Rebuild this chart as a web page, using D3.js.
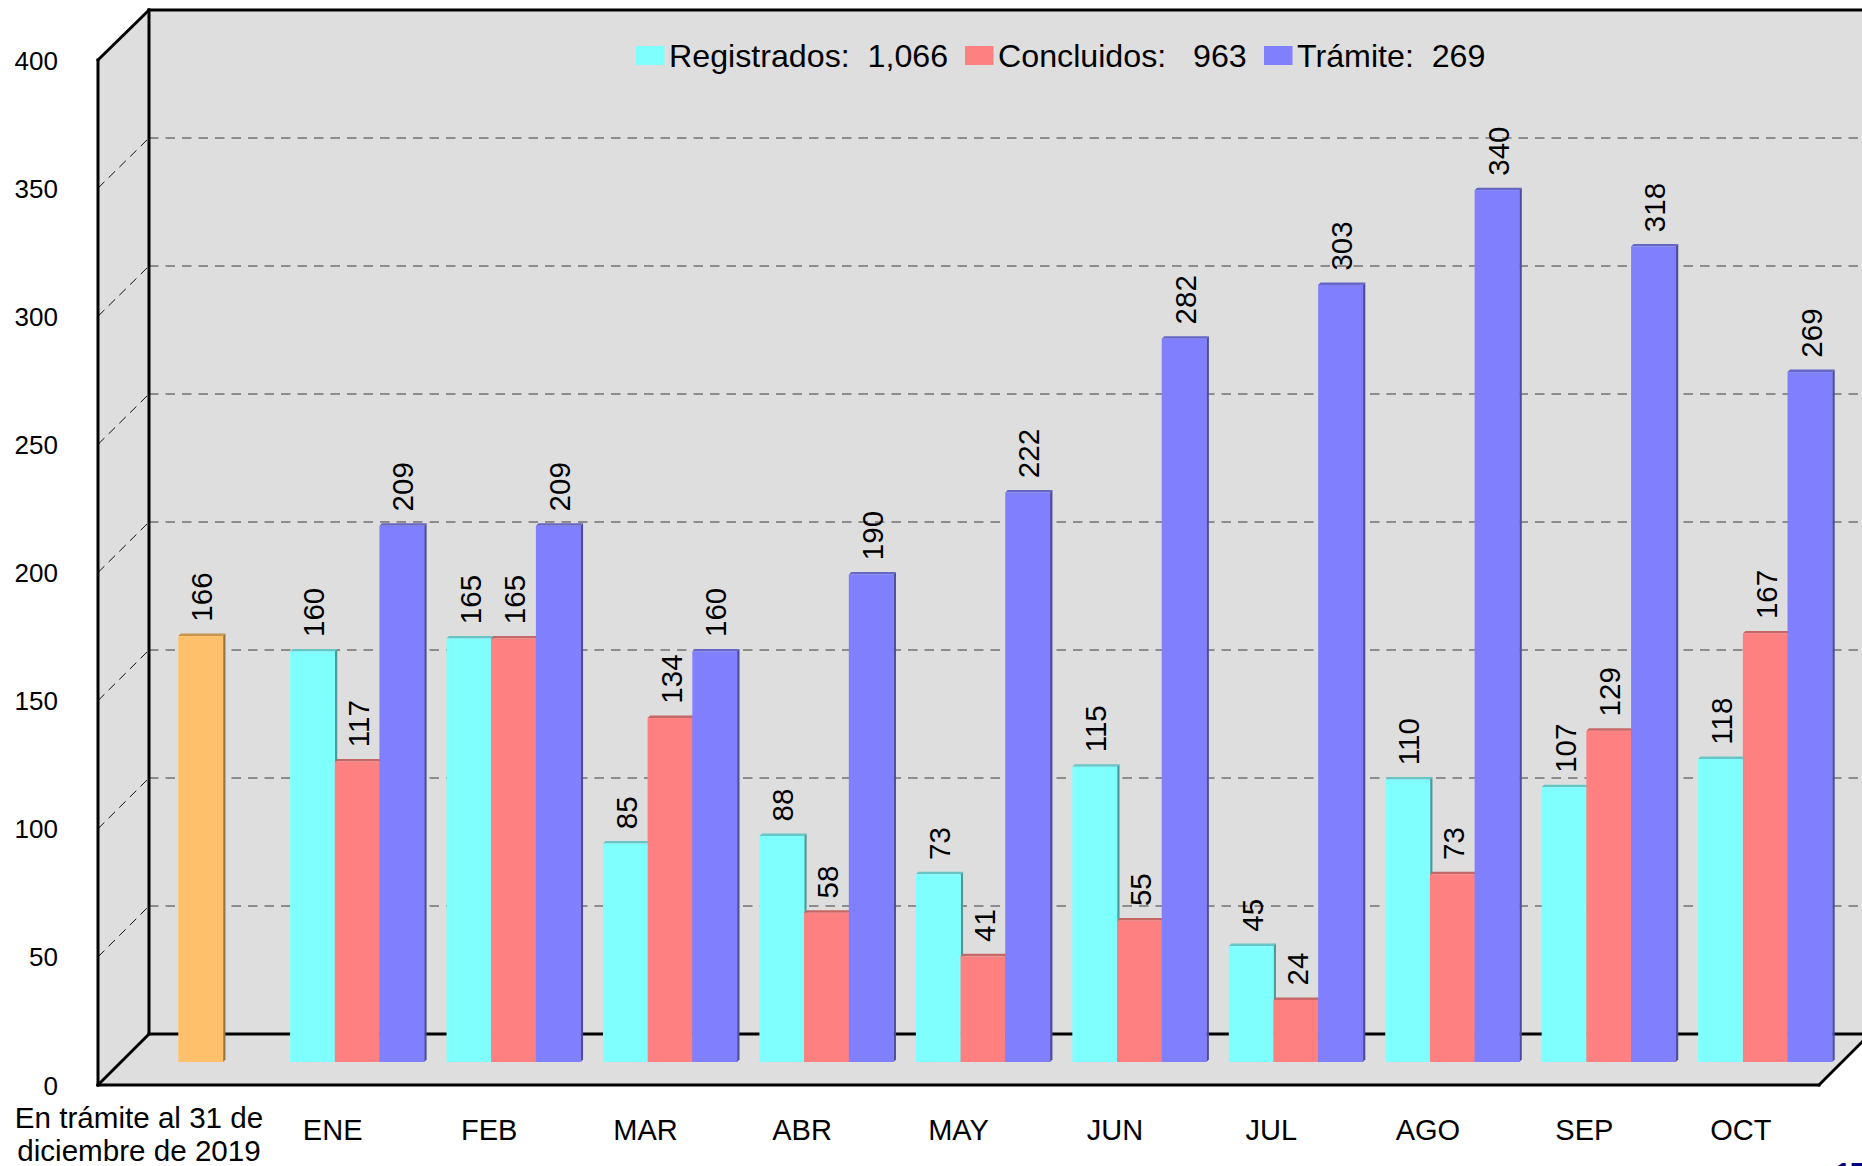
<!DOCTYPE html>
<html>
<head>
<meta charset="utf-8">
<script src="https://cdn.jsdelivr.net/npm/d3@7"></script>
<style>
html,body{margin:0;padding:0;background:#fff;overflow:hidden}
svg{display:block}
text{font-family:"Liberation Sans",Arial,sans-serif;fill:#000;white-space:pre}
</style>
</head>
<body>
<svg id="chart" width="1862" height="1166" xmlns="http://www.w3.org/2000/svg"></svg>
<script>
const categories = ["En trámite al 31 de diciembre de 2019","ENE","FEB","MAR","ABR","MAY","JUN","JUL","AGO","SEP","OCT"];
const tramite2019 = [166,null,null,null,null,null,null,null,null,null,null];
const registrados = [null,160,165,85,88,73,115,45,110,107,118];
const concluidos  = [null,117,165,134,58,41,55,24,73,129,167];
const tramite     = [null,209,209,160,190,222,282,303,340,318,269];
const yTicks = [0,50,100,150,200,250,300,350,400];
const seriesNames = ["Registrados","Concluidos","Trámite"];
const legendLabels = ["Registrados:  1,066","Concluidos:   963","Trámite:  269"];
const firstLabelLines = ["En trámite al 31 de","diciembre de 2019"];
const footerText = "17";

const colors = {Registrados:"#80FFFF",Concluidos:"#FF8080","Trámite":"#8080FF",Previo:"#FFC06C"};
const sideColors = {Registrados:"#4d9a9a",Concluidos:"#9a4d4d","Trámite":"#4d4d9a",Previo:"#9a7441"};
const capColors = {Registrados:"#66C6C6",Concluidos:"#C66666","Trámite":"#6666C6",Previo:"#C69650"};

const W=1862,H=1166;
const frontL=98,frontR=1819,backDX=51,backW=1880;
const svg=d3.select("#chart");

const yFront=d3.scaleLinear().domain([0,400]).range([1085,60]);
const yBack=d3.scaleLinear().domain([0,400]).range([1034,10]);
const yBar=d3.scaleLinear().domain([0,400]).range([1062,37]);
const xFront=d3.scaleBand().domain(categories).range([frontL,frontR]);
const xBar=d3.scaleBand().domain(categories).range([frontL+24.4,frontR+24.4]).paddingInner(0.1432).paddingOuter(0.0716);
const xSub=d3.scaleBand().domain(["Registrados","Previo","Trámite"]).range([0,xBar.bandwidth()]);
const sub=d3.scaleBand().domain(seriesNames).range([0,xBar.bandwidth()]);

const backL=frontL+backDX;
// walls and floor
svg.append("rect").attr("x",backL).attr("y",yBack(400)).attr("width",backW-backL).attr("height",yBack(0)-yBack(400)).attr("fill","#DEDEDE");
svg.append("polygon").attr("fill","#DEDEDE")
  .attr("points",[[frontL,yFront(400)],[backL,yBack(400)],[backL,yBack(0)],[frontL,yFront(0)]].join(" "));
svg.append("polygon").attr("fill","#DEDEDE")
  .attr("points",[[frontL,yFront(0)],[backL,yBack(0)],[frontR+backDX,yBack(0)],[frontR,yFront(0)]].join(" "));

// gridlines
const gridT=yTicks.filter(d=>d>0&&d<400);
svg.selectAll(".gb").data(gridT).join("line").attr("x1",backL).attr("x2",W)
  .attr("y1",d=>yBack(d)).attr("y2",d=>yBack(d))
  .attr("stroke","#3a3a3a").attr("stroke-width",1.2).attr("stroke-dasharray","9.5,7");
svg.selectAll(".gs").data(gridT).join("line").attr("x1",frontL).attr("x2",backL)
  .attr("y1",d=>yFront(d)).attr("y2",d=>yBack(d))
  .attr("stroke","#111").attr("stroke-width",1).attr("stroke-dasharray","9,6");

// frame
const frame=[
 [[frontL,yFront(400)],[frontL,yFront(0)]],
 [[frontL,yFront(0)],[frontR,yFront(0)]],
 [[frontL,yFront(400)],[backL,yBack(400)]],
 [[backL,yBack(400)],[W,yBack(400)]],
 [[backL,yBack(400)],[backL,yBack(0)]],
 [[backL,yBack(0)],[W,yBack(0)]],
 [[frontL,yFront(0)],[backL,yBack(0)]],
 [[frontR,yFront(0)],[frontR+backDX,yBack(0)]]
];
svg.selectAll(".f").data(frame).join("line")
 .attr("x1",d=>d[0][0]).attr("y1",d=>d[0][1]).attr("x2",d=>d[1][0]).attr("y2",d=>d[1][1])
 .attr("stroke","#000").attr("stroke-width",3).attr("stroke-linecap","square");

// bars
const marks=[];
categories.forEach((c,i)=>{
  if(tramite2019[i]!=null) marks.push({c,s:"Previo",v:tramite2019[i],x:xBar(c)+xSub.bandwidth()});
  [["Registrados",registrados],["Concluidos",concluidos],["Trámite",tramite]].forEach(([s,a])=>{
    if(a[i]!=null) marks.push({c,s,v:a[i],x:xBar(c)+sub(s)});
  });
});
const bw=sub.bandwidth(),dep=2.5;
const g=svg.append("g");
// left to right, so each bar's side sits behind its right neighbour
marks.forEach(d=>{
  const top=yBar(d.v)-0.6,base=yBar(0);
  g.append("polygon").attr("fill",sideColors[d.s])
    .attr("points",[[d.x+bw,top],[d.x+bw+dep,top-dep],[d.x+bw+dep,base-dep],[d.x+bw,base]].join(" "));
  g.append("polygon").attr("fill",capColors[d.s])
    .attr("points",[[d.x,top],[d.x+dep,top-dep],[d.x+bw+dep,top-dep],[d.x+bw,top]].join(" "));
  g.append("rect").attr("x",d.x).attr("y",top).attr("width",bw+0.3).attr("height",base-top).attr("fill",colors[d.s]);
});
// value labels
svg.selectAll(".v").data(marks).join("text")
  .attr("transform",d=>`translate(${d.x+bw/2+11.7},${yBar(d.v)-15}) rotate(-90)`)
  .attr("font-size",29.5).text(d=>d.v);

// y axis labels
svg.selectAll(".yt").data(yTicks).join("text")
  .attr("x",58).attr("y",d=>yFront(d)+9.5).attr("text-anchor","end").attr("font-size",26).text(d=>d);

// x labels
svg.selectAll(".xl").data(categories.slice(1)).join("text")
  .attr("x",d=>xFront(d)+xFront.bandwidth()/2).attr("y",1140)
  .attr("text-anchor","middle").attr("font-size",29).text(d=>d);
svg.selectAll(".xf").data(firstLabelLines).join("text")
  .attr("x",139).attr("y",(d,i)=>1128+i*33)
  .attr("text-anchor","middle").attr("font-size",29.6).text(d=>d);

// legend
const legendX=[636,965,1264];
seriesNames.forEach((s,i)=>{
  svg.append("rect").attr("x",legendX[i]).attr("y",46).attr("width",28.5).attr("height",19).attr("fill",colors[s]);
  svg.append("text").attr("x",legendX[i]+33).attr("y",67).attr("font-size",32.2)
    .attr("xml:space","preserve").text(legendLabels[i]);
});

// clipped footer text
svg.append("text").attr("x",1836).attr("y",1181).attr("font-size",26).attr("font-weight","bold")
  .style("fill","#000080").text(footerText);
</script>
</body>
</html>
